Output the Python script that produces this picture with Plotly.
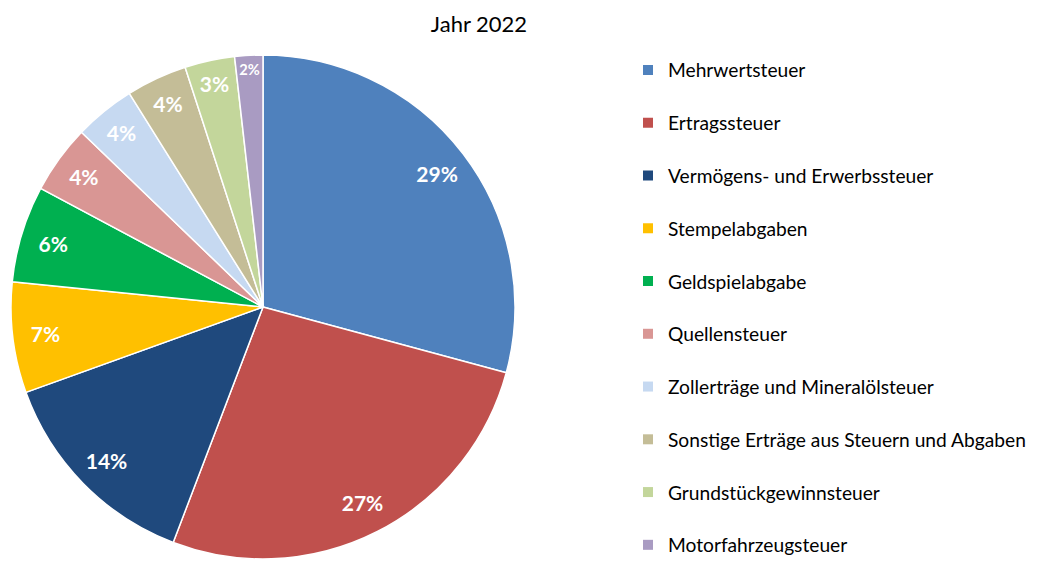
import plotly.graph_objects as go

categories = ["Mehrwertsteuer", "Ertragssteuer", "Vermögens- und Erwerbssteuer", "Stempelabgaben",
              "Geldspielabgabe", "Quellensteuer", "Zollerträge und Mineralölsteuer",
              "Sonstige Erträge aus Steuern und Abgaben", "Grundstückgewinnsteuer", "Motorfahrzeugsteuer"]
values = [29.2, 26.6, 13.7, 7.1, 6.2, 4.4, 3.9, 3.9, 3.2, 1.8]
colors = ["#4F81BD", "#C0504D", "#1F497D", "#FFC000", "#00B050", "#D99694",
          "#C6D9F1", "#C4BD97", "#C3D69B", "#A99BC2"]

# the page body has an 8px default margin; size the figure to the visible area
OFF = 8
W, H = 1041 - OFF, 563 - OFF
FONT = "Lato, 'Open Sans', sans-serif"


def px(x):
    return (x - OFF) / W


def py(y):
    return 1 - (y - OFF) / H


dom = dict(x=[px(11), px(515)], y=[py(559), py(55)])

fig = go.Figure()
# full pie (slices)
fig.add_trace(go.Pie(
    labels=categories, values=values, sort=False, direction="clockwise", rotation=0,
    marker=dict(colors=colors, line=dict(color="white", width=1.5)),
    textinfo="none", domain=dom, showlegend=False, hoverinfo="label+percent",
))
# transparent ring carrying the percentage labels near the rim
fig.add_trace(go.Pie(
    labels=categories, values=values, sort=False, direction="clockwise", rotation=0, hole=0.74,
    marker=dict(colors=["rgba(0,0,0,0)"] * len(values), line=dict(width=0)),
    texttemplate="%{percent:.0%}", textposition="inside", insidetextorientation="horizontal",
    textfont=dict(color="white", size=21, family=FONT, weight="bold"),
    domain=dom, showlegend=False, hoverinfo="skip",
))
for i, (c, col) in enumerate(zip(categories, colors)):
    fig.add_trace(go.Scatter(x=[None], y=[None], mode="markers", name=c, legendgroup=f"g{i}",
                             marker=dict(symbol="square", size=10, color=col)))

fig.update_layout(
    width=W, height=H,
    margin=dict(l=0, r=0, t=0, b=0, autoexpand=False),
    paper_bgcolor="white", plot_bgcolor="white",
    font=dict(family=FONT, color="#000000"),
    title=dict(text="Jahr 2022", x=px(479), xanchor="center", y=py(24), yanchor="middle",
               font=dict(size=22, family=FONT, color="#000000")),
    xaxis=dict(visible=False), yaxis=dict(visible=False),
    legend=dict(x=px(628), xanchor="left", y=py(51), yanchor="top",
                font=dict(size=19.2, family=FONT, color="#000000"),
                tracegroupgap=24.8, itemclick=False),
)
fig.write_html("out.html")
